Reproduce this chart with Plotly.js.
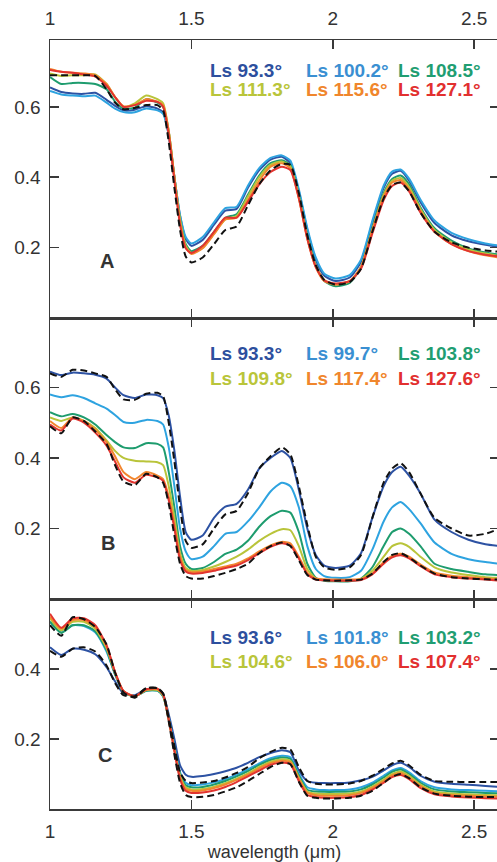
<!DOCTYPE html>
<html><head><meta charset="utf-8">
<script src="https://cdn.plot.ly/plotly-3.0.1.min.js"></script>
<style>html,body{margin:0;padding:0;overflow:hidden;background:#fff}</style>
</head><body><div id="chart" style="width:499px;height:862px"></div>
<script>
// wavelength grid (µm)
const wavelength = [1.00,1.04,1.08,1.12,1.16,1.20,1.23,1.26,1.30,1.34,1.38,
  1.40,1.42,1.44,1.46,1.48,1.50,1.54,1.58,1.62,1.66,1.70,
  1.74,1.78,1.82,1.85,1.88,1.91,1.94,1.97,2.01,2.06,2.10,
  2.14,2.18,2.21,2.24,2.27,2.31,2.36,2.42,2.48,2.54,2.59];

// Panel A
const labelsA = ['Ls 93.3°','Ls 100.2°','Ls 108.5°','Ls 111.3°','Ls 115.6°','Ls 127.1°'];
const A_1 = [.655,.642,.638,.637,.640,.620,.603,.590,.592,.602,.595,
  .585,.520,.400,.290,.225,.205,.222,.265,.305,.310,.370,
  .420,.450,.458,.440,.360,.250,.165,.120,.105,.115,.160,
  .270,.370,.410,.418,.390,.330,.270,.235,.218,.208,.202];
const A_2 = [.645,.635,.632,.630,.632,.612,.595,.585,.585,.595,.590,
  .580,.520,.400,.292,.230,.212,.230,.272,.312,.316,.376,
  .426,.455,.462,.447,.366,.256,.172,.126,.112,.122,.166,
  .276,.376,.416,.422,.396,.337,.277,.242,.224,.212,.206];
const A_3 = [.685,.665,.668,.668,.665,.650,.615,.595,.598,.622,.612,
  .600,.530,.400,.280,.210,.190,.205,.245,.285,.295,.350,
  .405,.440,.448,.435,.350,.235,.150,.105,.090,.100,.145,
  .255,.355,.395,.405,.380,.315,.255,.220,.198,.186,.180];
const A_4 = [.695,.688,.690,.690,.692,.665,.628,.600,.610,.632,.622,
  .610,.530,.400,.280,.205,.185,.200,.240,.280,.290,.345,
  .400,.435,.445,.430,.345,.230,.148,.108,.095,.105,.145,
  .250,.350,.390,.398,.372,.310,.250,.215,.195,.183,.176];
const A_5 = [.708,.700,.697,.695,.690,.665,.628,.602,.605,.622,.615,
  .605,.530,.400,.270,.200,.182,.198,.238,.280,.285,.335,
  .390,.430,.440,.425,.340,.225,.145,.105,.095,.105,.145,
  .250,.345,.385,.392,.365,.305,.245,.210,.190,.178,.172];
const A_6 = [.705,.700,.697,.692,.686,.660,.628,.600,.605,.617,.614,
  .600,.520,.390,.265,.198,.185,.205,.245,.285,.285,.330,
  .380,.415,.430,.420,.340,.225,.145,.107,.098,.105,.140,
  .240,.335,.375,.385,.360,.300,.245,.210,.190,.180,.175];
const A_dash = [.690,.690,.690,.690,.688,.650,.612,.593,.597,.605,.605,
  .590,.500,.370,.250,.175,.158,.172,.210,.250,.260,.320,
  .380,.420,.438,.435,.355,.235,.150,.108,.095,.102,.140,
  .245,.340,.378,.385,.360,.300,.245,.215,.200,.192,.188];

// Panel B
const labelsB = ['Ls 93.3°','Ls 99.7°','Ls 103.8°','Ls 109.8°','Ls 117.4°','Ls 127.6°'];
const B_1 = [.645,.635,.642,.640,.636,.625,.600,.578,.570,.580,.578,
  .570,.520,.420,.290,.190,.168,.180,.230,.262,.270,.310,
  .370,.400,.420,.400,.310,.200,.125,.095,.088,.095,.130,
  .230,.320,.360,.375,.350,.300,.225,.190,.168,.155,.150];
const B_2 = [.580,.572,.578,.570,.555,.540,.522,.502,.500,.508,.505,
  .495,.430,.320,.200,.135,.113,.120,.150,.185,.190,.220,
  .260,.305,.330,.320,.260,.150,.085,.065,.060,.062,.080,
  .140,.220,.260,.275,.255,.215,.160,.128,.113,.105,.100];
const B_3 = [.530,.518,.525,.515,.495,.465,.445,.430,.428,.442,.440,
  .430,.360,.260,.150,.100,.085,.088,.105,.128,.140,.165,
  .205,.235,.250,.245,.190,.100,.060,.052,.050,.050,.058,
  .090,.150,.190,.200,.185,.150,.100,.085,.077,.070,.068];
const B_4 = [.515,.505,.515,.505,.485,.450,.420,.400,.392,.390,.388,
  .380,.320,.230,.130,.088,.080,.082,.092,.105,.120,.140,
  .165,.185,.198,.195,.150,.085,.058,.054,.053,.053,.057,
  .080,.120,.150,.158,.148,.120,.090,.075,.068,.062,.060];
const B_5 = [.505,.485,.515,.505,.480,.445,.405,.360,.340,.360,.350,
  .340,.290,.210,.120,.082,.076,.078,.085,.092,.100,.115,
  .135,.152,.162,.158,.120,.075,.058,.056,.055,.055,.057,
  .072,.105,.122,.128,.120,.098,.075,.066,.062,.058,.056];
const B_6 = [.495,.478,.512,.500,.472,.435,.390,.345,.330,.352,.345,
  .335,.280,.200,.110,.078,.072,.074,.080,.088,.095,.110,
  .130,.148,.158,.152,.115,.070,.055,.053,.052,.052,.054,
  .070,.100,.118,.124,.115,.093,.070,.062,.058,.055,.052];
const B_dashHi = [.640,.630,.650,.648,.640,.630,.595,.566,.565,.582,.585,
  .575,.500,.390,.260,.165,.145,.155,.200,.240,.250,.300,
  .370,.405,.430,.410,.320,.210,.120,.090,.083,.090,.125,
  .230,.330,.370,.385,.360,.300,.230,.200,.180,.185,.200];
const B_dashLo = [.490,.470,.515,.505,.475,.440,.380,.333,.323,.355,.345,
  .330,.270,.180,.100,.065,.058,.058,.065,.074,.085,.100,
  .130,.150,.160,.150,.110,.068,.055,.053,.052,.053,.055,
  .072,.105,.125,.130,.118,.095,.072,.062,.058,.056,.055];

// Panel C
const labelsC = ['Ls 93.6°','Ls 101.8°','Ls 103.2°','Ls 104.6°','Ls 106.0°','Ls 107.4°'];
const C_1 = [.462,.440,.458,.455,.442,.405,.365,.330,.325,.342,.340,
  .328,.270,.200,.125,.098,.092,.094,.100,.108,.118,.132,
  .148,.160,.168,.162,.110,.080,.075,.074,.074,.076,.082,
  .092,.110,.125,.132,.120,.095,.078,.072,.069,.066,.063];
const C_2 = [.535,.505,.525,.523,.505,.450,.385,.335,.322,.338,.338,
  .322,.260,.180,.105,.075,.068,.070,.076,.085,.098,.113,
  .130,.145,.152,.148,.100,.062,.056,.054,.054,.056,.062,
  .075,.095,.110,.117,.105,.080,.062,.056,.054,.052,.050];
const C_3 = [.535,.503,.525,.525,.508,.455,.385,.335,.322,.338,.338,
  .322,.255,.175,.100,.068,.062,.063,.070,.080,.093,.108,
  .126,.140,.147,.143,.095,.055,.050,.049,.049,.050,.056,
  .070,.090,.106,.113,.100,.075,.056,.050,.048,.046,.045];
const C_4 = [.545,.510,.535,.535,.515,.460,.390,.335,.322,.340,.340,
  .325,.255,.170,.095,.062,.056,.057,.064,.074,.087,.102,
  .120,.135,.142,.138,.090,.050,.044,.043,.043,.044,.050,
  .064,.084,.100,.107,.095,.070,.050,.044,.042,.040,.039];
const C_5 = [.550,.515,.540,.540,.520,.465,.390,.337,.322,.340,.342,
  .326,.255,.168,.090,.058,.052,.053,.060,.070,.083,.098,
  .116,.131,.138,.134,.086,.046,.040,.038,.038,.040,.046,
  .060,.080,.096,.103,.090,.066,.046,.040,.038,.036,.035];
const C_6 = [.558,.518,.545,.545,.525,.468,.392,.337,.322,.342,.344,
  .328,.255,.165,.085,.052,.046,.047,.053,.063,.077,.093,
  .110,.126,.133,.128,.080,.040,.034,.032,.032,.034,.040,
  .055,.075,.091,.097,.085,.060,.042,.036,.033,.031,.030];
const C_dash1 = [.452,.435,.458,.462,.450,.410,.360,.325,.322,.345,.345,
  .330,.260,.180,.105,.080,.074,.076,.080,.090,.103,.120,
  .145,.163,.175,.170,.120,.080,.072,.070,.070,.073,.080,
  .095,.115,.130,.138,.125,.098,.080,.078,.077,.077,.077];
const C_dash2 = [.525,.495,.548,.542,.520,.470,.390,.333,.318,.345,.346,
  .330,.250,.155,.075,.040,.034,.035,.040,.050,.062,.080,
  .100,.120,.132,.128,.078,.038,.032,.030,.030,.032,.038,
  .052,.075,.092,.100,.088,.062,.044,.038,.035,.034,.034];

const xTicks = [1, 1.5, 2, 2.5];
const xTickText = ['1','1.5','2','2.5'];

const lineColors = ['#2d52a3','#2ea3e0','#1e9c6e','#b9c43a','#f2862e','#e2342f'];
const textColors = ['#2d4f9e','#3a8fd2','#1f9e72','#b9c53a','#f0862c','#e2302f'];
const FONT = 'Liberation Sans, Arial, Helvetica, sans-serif';

const traces = [];
function addPanel(series, dashes, xa, ya) {
  series.forEach((s, i) => traces.push({
    x: wavelength, y: s, xaxis: xa, yaxis: ya, mode: 'lines', hoverinfo: 'skip',
    line: {color: lineColors[i], width: 2, shape: 'spline', smoothing: 0.6}
  }));
  dashes.forEach(d => traces.push({
    x: wavelength, y: d, xaxis: xa, yaxis: ya, mode: 'lines', hoverinfo: 'skip',
    line: {color: '#111', width: 2, dash: '7px,4px', shape: 'spline', smoothing: 0.6}
  }));
}
addPanel([A_1,A_2,A_3,A_4,A_5,A_6], [A_dash], 'x', 'y');
addPanel([B_1,B_2,B_3,B_4,B_5,B_6], [B_dashHi,B_dashLo], 'x2', 'y2');
addPanel([C_1,C_2,C_3,C_4,C_5,C_6], [C_dash1,C_dash2], 'x3', 'y3');

// pixel helpers for layout placement
const L = 50, W = 449, T = 40, H = 769;
const xp = px => (px - L) / W;
const yp = py => (T + H - py) / H;

const axisBase = {
  showline: true, linecolor: '#3a3a3a', linewidth: 1.5, mirror: 'ticks',
  ticks: 'inside', ticklen: 9, tickwidth: 1.5, tickcolor: '#3a3a3a',
  showgrid: false, zeroline: false, fixedrange: true,
  tickfont: {family: FONT, size: 19, color: '#333'}
};
const xBase = Object.assign({}, axisBase, {range: [1, 2.588], tickvals: xTicks, ticktext: xTickText, ticklabelstandoff: 6});
const yBase = Object.assign({}, axisBase, {tickvals: [0.2,0.4,0.6], ticktext: ['0.2','0.4','0.6'], ticklabelstandoff: 4});

const annotations = [];
function addLegend(labels, rowsPy) {
  const cols = [208, 304, 396];
  labels.forEach((t, i) => annotations.push({
    text: '<b>' + t + '</b>', xref: 'paper', yref: 'paper',
    x: xp(cols[i % 3]), y: yp(rowsPy[Math.floor(i / 3)]),
    xanchor: 'left', yanchor: 'middle', showarrow: false,
    font: {family: FONT, size: 19, color: textColors[i]}
  }));
}
addLegend(labelsA, [71, 89]);
addLegend(labelsB, [354, 379]);
addLegend(labelsC, [637, 661]);
[['A',107,261],['B',108,543],['C',105,755]].forEach(([t, px, py]) => annotations.push({
  text: '<b>' + t + '</b>', xref: 'paper', yref: 'paper', x: xp(px), y: yp(py),
  xanchor: 'center', yanchor: 'middle', showarrow: false,
  font: {family: FONT, size: 20, color: '#333'}
}));

const layout = {
  width: 499, height: 862, margin: {l: 50, r: 0, t: 40, b: 53},
  showlegend: false, paper_bgcolor: '#fff', plot_bgcolor: '#fff',
  xaxis: Object.assign({}, xBase, {anchor: 'y', side: 'top'}),
  xaxis2: Object.assign({}, xBase, {anchor: 'y2', showticklabels: false}),
  xaxis3: Object.assign({}, xBase, {anchor: 'y3', side: 'bottom', ticklabelstandoff: 5,
    title: {text: 'wavelength (μm)', font: {family: FONT, size: 18, color: '#333'}, standoff: 9}}),
  yaxis: Object.assign({}, yBase, {anchor: 'x', domain: [yp(318), 1], range: [0, 0.79]}),
  yaxis2: Object.assign({}, yBase, {anchor: 'x2', domain: [yp(599), yp(318)], range: [0, 0.797]}),
  yaxis3: Object.assign({}, yBase, {anchor: 'x3', domain: [0, yp(599)], range: [0, 0.6], tickvals: [0.2,0.4], ticktext: ['0.2','0.4']}),
  annotations: annotations
};
Plotly.newPlot('chart', traces, layout, {displayModeBar: false, staticPlot: true});
</script></body></html>
